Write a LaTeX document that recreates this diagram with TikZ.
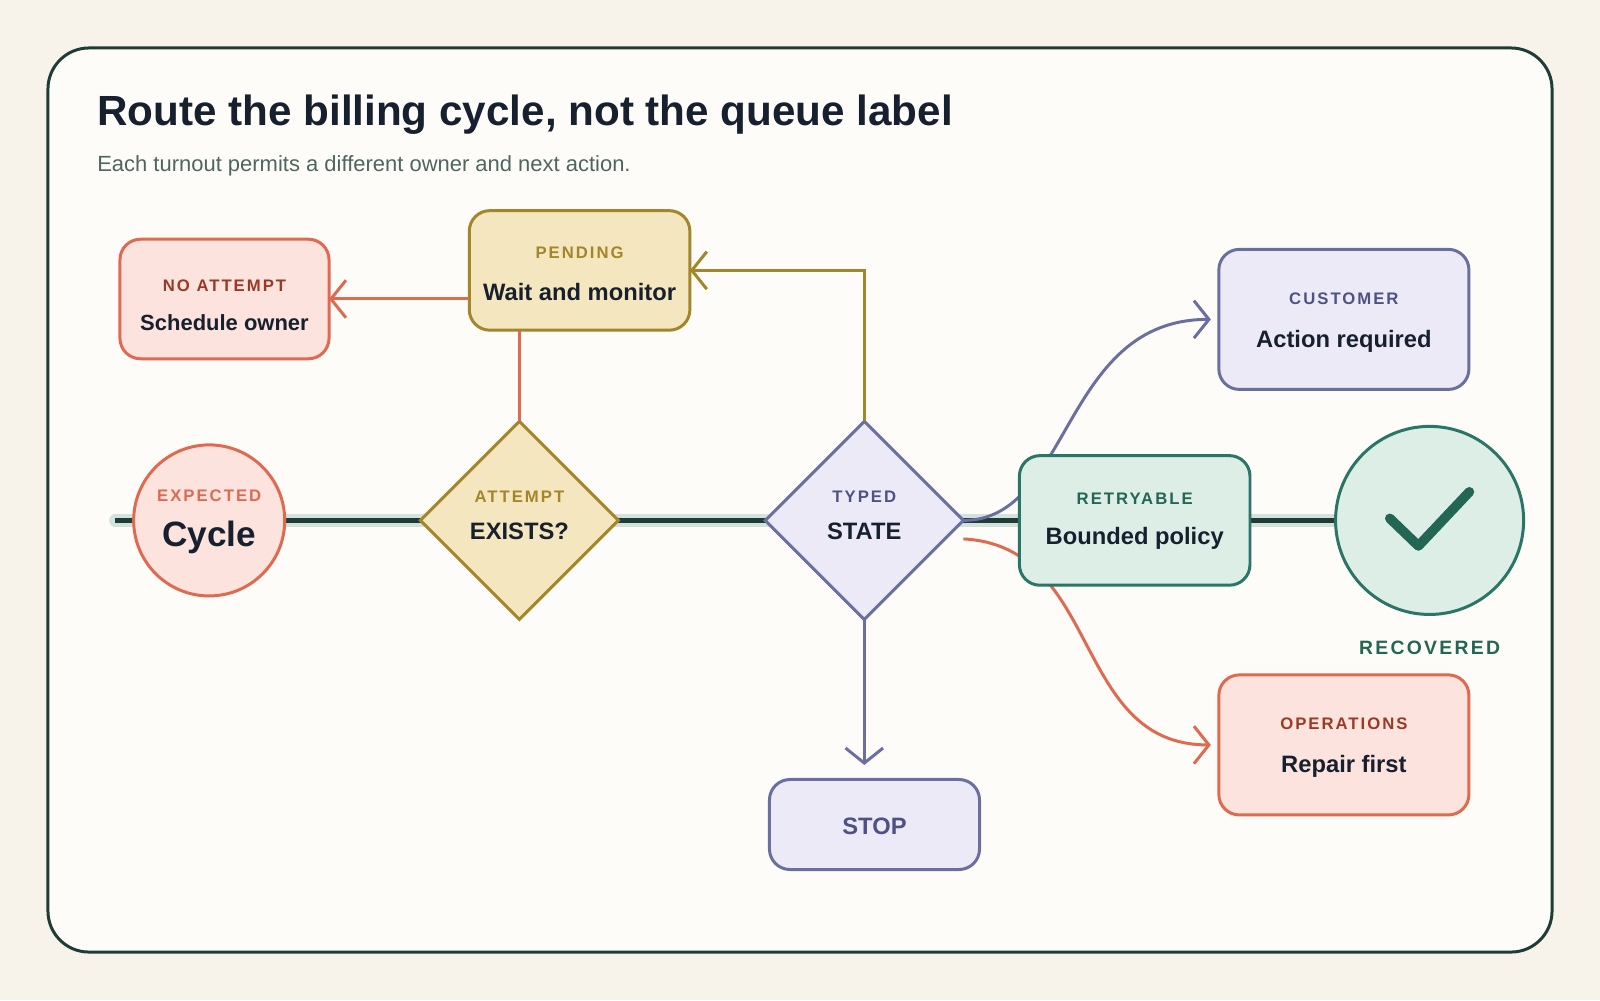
\documentclass[tikz,border=0pt]{standalone}
\usepackage{fontspec}
\usepackage{tikz}
\usetikzlibrary{shapes.geometric,arrows.meta}
\setmainfont{Liberation Sans}
\newfontfamily\tagfont{Liberation Sans}[LetterSpace=12]
\definecolor{paper}{HTML}{F7F3EA}
\definecolor{card}{HTML}{FDFCF8}
\definecolor{ink}{HTML}{17202E}
\definecolor{pine}{HTML}{1F3D36}
\definecolor{mist}{HTML}{D3E2DC}
\definecolor{coral}{HTML}{E06A50}
\definecolor{coralfill}{HTML}{FCE3DD}
\definecolor{brick}{HTML}{9A3A26}
\definecolor{ochre}{HTML}{A3862A}
\definecolor{ochrefill}{HTML}{F4E6BE}
\definecolor{slate}{HTML}{6B6FA0}
\definecolor{slatefill}{HTML}{ECEAF7}
\definecolor{slatedark}{HTML}{4E5283}
\definecolor{teal}{HTML}{2A7566}
\definecolor{tealfill}{HTML}{DDEEE7}
\definecolor{tealdark}{HTML}{236654}
\definecolor{sub}{HTML}{4F6660}

\begin{document}
\begin{tikzpicture}[
            x=0.020408cm, y=-0.020408cm,
            box/.style={draw, line width=1.7pt, rounded corners=0.41cm, outer sep=0pt},
            gate/.style={diamond, draw, line width=1.7pt, inner sep=0pt, outer sep=0pt,
                minimum width=3.96cm, minimum height=3.96cm},
            disc/.style={circle, draw, line width=1.7pt, inner sep=0pt, outer sep=0pt},
            tag/.style={font=\tagfont\bfseries\fontsize{9.5}{11}\selectfont, inner sep=0pt},
            main/.style={font=\bfseries\fontsize{13.5}{16}\selectfont, text=ink, inner sep=0pt},
            arrow/.style={-{Straight Barb[length=0.3cm, width=0.75cm, line width=1.7pt]}, line width=1.7pt}
        ]
            % Page and card
            \fill[paper] (0,0) rectangle (1568,980);
            \draw[pine, fill=card, line width=1.7pt, rounded corners=0.82cm] (47,47) rectangle (1521,933);

            % Title
            \node[anchor=base west, inner sep=0pt, text=ink, font=\bfseries\fontsize{24}{28}\selectfont] (title) at (95,123) {Route the billing cycle, not the queue label};
            \node[anchor=base west, inner sep=0pt, text=sub, font=\fontsize{12.5}{15}\selectfont] (subtitle) at (95,168) {Each turnout permits a different owner and next action.};

            % Main track
            \coordinate (trackstart) at (113,510);
            \coordinate (trackend) at (1310,510);
            \draw[mist, line width=7pt, line cap=round] (trackstart) -- (trackend);
            \draw[pine, line width=2.8pt] (trackstart) -- (trackend);

            % Shapes (placed first so connectors can use their anchors)
            \node[gate, fill=ochrefill, draw=ochre] (attempt) at (509,510) {};
            \node[gate, fill=slatefill, draw=slate] (typed) at (847,510) {};
            \node[box, fill=ochrefill, draw=ochre, minimum width=4.41cm, minimum height=2.39cm] (pending) at (568,265) {};
            \node[box, fill=coralfill, draw=coral, minimum width=4.18cm, minimum height=2.39cm] (noattempt) at (220,293) {};
            \node[box, fill=slatefill, draw=slate, minimum width=5cm, minimum height=2.8cm] (customer) at (1317,313) {};
            \node[box, fill=coralfill, draw=coral, minimum width=5cm, minimum height=2.8cm] (operations) at (1317,730) {};
            \node[box, fill=slatefill, draw=slate, minimum width=4.2cm, minimum height=1.8cm] (stop) at (857,808) {};

            % Connectors
            \draw[coral, line width=1.7pt] (attempt.north) -- (attempt.north |- pending.south);
            \draw[arrow, coral] (pending.west |- noattempt) -- (noattempt.east);
            \draw[arrow, ochre] (typed.north) |- (pending.east);
            \draw[arrow, slate, shorten >=0.29cm] (typed.south) -- (typed.south |- stop.north);
            \draw[arrow, slate, shorten >=0.16cm] (typed.east) .. controls (1050,510) and (1040,313) .. (customer.west);
            \draw[arrow, coral, shorten >=0.16cm] ([yshift=-0.37cm]typed.east) .. controls (1080,535) and (1050,730) .. (operations.west);

            % Nodes on the track
            \node[disc, fill=coralfill, draw=coral, minimum size=3.02cm] (expected) at (205,510) {};
            \node[box, fill=tealfill, draw=teal, minimum width=4.61cm, minimum height=2.59cm] (retryable) at (1112,510) {};
            \node[disc, fill=tealfill, draw=teal, minimum size=3.76cm] (recovered) at (1401,510) {};
            \coordinate (tickA) at (1362,508);
            \coordinate (tickB) at (1390,535);
            \coordinate (tickC) at (1440,482);
            \draw[tealdark, line width=5.5pt, line cap=round, line join=round] (tickA) -- (tickB) -- (tickC);

            % Texts
            \node[tag, text=coral] (expectedtag) at (205,486) {EXPECTED};
            \node[main, font=\bfseries\fontsize{20}{24}\selectfont] (expectedtxt) at (205,527) {Cycle};
            \node[tag, text=brick] (noattempttag) at (220,280) {NO ATTEMPT};
            \node[main, font=\bfseries\fontsize{12.5}{15}\selectfont] (noattempttxt) at (220,316) {Schedule owner};
            \node[tag, text=ochre] (pendingtag) at (568,248) {PENDING};
            \node[main] (pendingtxt) at (568,286) {Wait and monitor};
            \node[tag, text=ochre] (attempttag) at (509,487) {ATTEMPT};
            \node[main] (attempttxt) at (509,521) {EXISTS?};
            \node[tag, text=slatedark] (typedtag) at (847,487) {TYPED};
            \node[main] (typedtxt) at (847,521) {STATE};
            \node[tag, text=slatedark] (customertag) at (1317,293) {CUSTOMER};
            \node[main] (customertxt) at (1317,335) {Action required};
            \node[tag, text=tealdark] (retryabletag) at (1112,489) {RETRYABLE};
            \node[main] (retryabletxt) at (1112,528) {Bounded policy};
            \node[tag, text=tealdark, font=\tagfont\bfseries\fontsize{11}{13}\selectfont] (recoveredtag) at (1401,635) {RECOVERED};
            \node[tag, text=brick] (operationstag) at (1317,709) {OPERATIONS};
            \node[main] (operationstxt) at (1317,751) {Repair first};
            \node[main, text=slatedark] (stoptxt) at (857,810) {STOP};
        \end{tikzpicture}
\end{document}
